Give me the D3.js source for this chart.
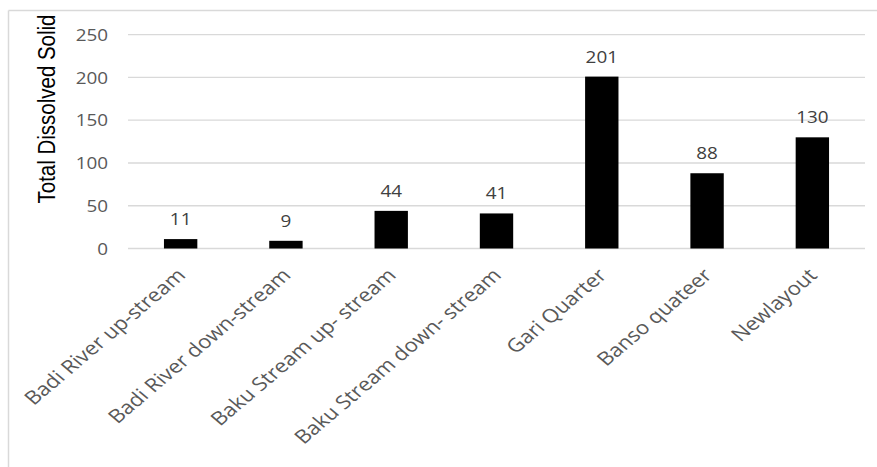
<!DOCTYPE html>
<html>
<head>
<meta charset="utf-8">
<script src="https://cdn.jsdelivr.net/npm/d3@7"></script>
<style>
  html, body { margin: 0; padding: 0; background: #fff; }
  svg { display: block; }
</style>
</head>
<body>
<div id="chart"></div>
<script>
const categories = ["Badi River up-stream", "Badi River down-stream", "Baku Stream up- stream", "Baku Stream down- stream", "Gari Quarter", "Banso quateer", "Newlayout"];
const values = [11, 9, 44, 41, 201, 88, 130];
const yTicks = [0, 50, 100, 150, 200, 250];
const yTitle = "Total Dissolved Solid";

const W = 877, H = 467;
const SX = 1.18; // horizontal stretch of the reference's lettering
const svg = d3.select("#chart").append("svg").attr("width", W).attr("height", H);

// frame (top and left edges only)
svg.append("line").attr("x1", 8.5).attr("x2", W).attr("y1", 10.5).attr("y2", 10.5)
  .attr("stroke", "#d9d9d9").attr("stroke-width", 1.5);
svg.append("line").attr("x1", 8.5).attr("x2", 8.5).attr("y1", 10.5).attr("y2", H)
  .attr("stroke", "#d9d9d9").attr("stroke-width", 1.5);

const x = d3.scaleBand().domain(categories).range([128, 865]).paddingInner(0.683).paddingOuter(0.3415);
const y = d3.scaleLinear().domain([0, 250]).range([248.5, 34.7]);

// gridlines
svg.append("g").selectAll("line").data(yTicks).join("line")
  .attr("x1", 128).attr("x2", 865)
  .attr("y1", d => y(d)).attr("y2", d => y(d))
  .attr("stroke", "#d9d9d9").attr("stroke-width", 1.3);

// y tick labels
const yAxis = d3.axisLeft(y).tickValues(yTicks).tickSize(0).tickPadding(0);
const gy = svg.append("g").attr("transform", "translate(108,0)").call(yAxis);
gy.select(".domain").remove();
gy.selectAll("text").attr("font-family", "'Open Sans', sans-serif").attr("font-size", 16)
  .attr("fill", "#595959").attr("x", 0).attr("dy", "0.36em")
  .attr("transform", `scale(${SX},1)`);

// bars
svg.append("g").selectAll("rect").data(values).join("rect")
  .attr("x", (d, i) => x(categories[i]))
  .attr("width", x.bandwidth())
  .attr("y", d => y(d))
  .attr("height", d => y(0) - y(d))
  .attr("fill", "#000");

// value labels
svg.append("g").selectAll("text").data(values).join("text")
  .attr("transform", (d, i) => `translate(${x(categories[i]) + x.bandwidth() / 2},${y(d) - 14}) scale(${SX},1)`)
  .attr("text-anchor", "middle")
  .attr("font-family", "'Open Sans', sans-serif").attr("font-size", 16)
  .attr("fill", "#404040")
  .text(d => d);

// x labels
const xAxis = d3.axisBottom(x).tickSize(0).tickPadding(0);
const gx = svg.append("g").attr("transform", `translate(0,${y(0)})`).call(xAxis);
gx.select(".domain").remove();
gx.selectAll("text")
  .attr("font-family", "'Open Sans', sans-serif").attr("font-size", 18.8)
  .attr("fill", "#595959")
  .attr("text-anchor", "end")
  .attr("dy", null).attr("y", null)
  .attr("transform", `translate(6,28) scale(${SX},1) rotate(-45)`);

// y title
svg.append("text")
  .attr("transform", `translate(55,109) scale(${SX},1) rotate(-90)`)
  .attr("text-anchor", "middle")
  .attr("font-family", "'Liberation Sans', Arial, sans-serif").attr("font-size", 20.5)
  .attr("fill", "#000")
  .text(yTitle);
</script>
</body>
</html>
